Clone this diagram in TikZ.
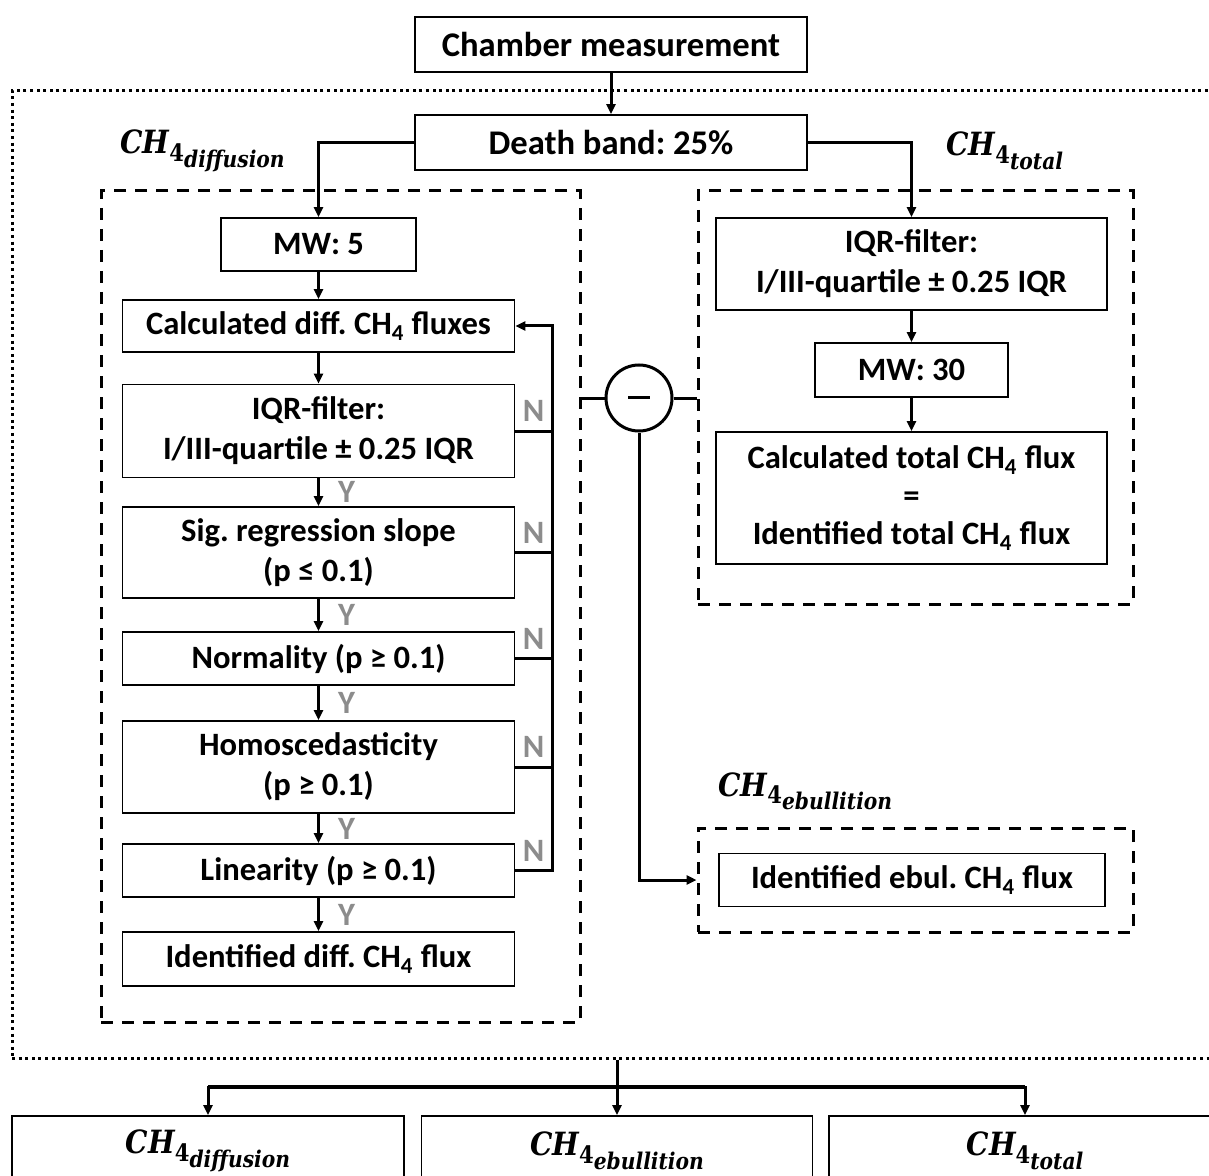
\documentclass[tikz,border=0pt]{standalone}
\usepackage{fontspec}
\setmainfont{Carlito}
\newfontfamily\labfont[FakeStretch=0.88]{DejaVu Serif}
\usetikzlibrary{arrows.meta}
\newcommand{\chfour}[1]{{\labfont\bfseries\itshape\fontsize{16}{19}\selectfont CH\raisebox{-0.45ex}{\upshape\fontsize{12}{12}\selectfont 4\raisebox{-0.5ex}{\itshape\fontsize{11.5}{11.5}\selectfont #1}}}}
\frenchspacing

\begin{document}
\begin{tikzpicture}[x=0.5pt,y=-0.5pt,>={Triangle[length=5pt,width=4.5pt]},
  box/.style={draw,line width=0.9pt,fill=white,inner sep=0pt,align=center,font=\bfseries\fontsize{16.3}{20}\selectfont},
  topbox/.style={box,font=\bfseries\fontsize{17.3}{20}\selectfont},
  bw/.style={minimum width=#1*0.5pt},
  bh/.style={minimum height=#1*0.5pt},
  grp/.style={draw,line width=1.5pt,dash pattern=on 6pt off 4.5pt,inner sep=0pt},
  frm/.style={draw,line width=1.5pt,dash pattern=on 1.5pt off 1.8pt,inner sep=0pt},
  conn/.style={line width=1.5pt},
  yn/.style={text=black!45,font=\bfseries\fontsize{16.3}{20}\selectfont,inner sep=0pt},
  chlab/.style={inner sep=0pt}]
\path[use as bounding box,clip] (0,0) rectangle (1209,1176);
\node[frm,bw=1210,bh=967] (outer) at (617,574.5) {};
\node[grp,bw=479,bh=831] (diffgrp) at (340.5,606.5) {};
\node[grp,bw=435,bh=413] (totgrp) at (915.5,397.5) {};
\node[grp,bw=435,bh=104] (ebugrp) at (915.5,880) {};
\node[topbox,bw=392,bh=55] (chamber) at (611,44.5) {Chamber measurement};
\node[topbox,bw=392,bh=55] (death) at (611,142.5) {Death band: 25\%};
\node[chlab,anchor=base west] (ldiff) at (120,154) {\chfour{diffusion}};
\node[chlab,anchor=base west] (ltot) at (946,156) {\chfour{total}};
\node[chlab,anchor=base west] (lebu) at (718,796) {\chfour{ebullition}};
% diffusive path
\node[box,bw=195,bh=53] (mwfive) at (318.5,244.5) {MW: 5};
\node[box,bw=392,bh=52] (calcd) at (318.5,326) {Calculated diff. CH\textsubscript{4} fluxes};
\node[box,bw=392,bh=93] (iqrd) at (318.5,431) {IQR-filter:\\I/III-quartile ± 0.25 IQR};
\node[box,bw=392,bh=91] (slope) at (318.5,552.5) {Sig. regression slope\\(p ≤ 0.1)};
\node[box,bw=392,bh=53] (normal) at (318.5,658.5) {Normality (p ≥ 0.1)};
\node[box,bw=392,bh=92] (homo) at (318.5,767) {Homoscedasticity\\(p ≥ 0.1)};
\node[box,bw=392,bh=53] (linear) at (318.5,870.5) {Linearity (p ≥ 0.1)};
\node[box,bw=392,bh=54] (iddiff) at (318.5,959) {Identified diff. CH\textsubscript{4} flux};
% total path
\node[box,bw=391,bh=92] (iqrt) at (911.5,264) {IQR-filter:\\I/III-quartile ± 0.25 IQR};
\node[box,bw=193,bh=54] (mwthirty) at (911.5,370) {MW: 30};
\node[box,bw=391,bh=132,font=\bfseries\fontsize{16.3}{19}\selectfont] (calct) at (911.5,498) {Calculated total CH\textsubscript{4} flux\\=\\Identified total CH\textsubscript{4} flux};
\node[box,bw=386,bh=53] (idebu) at (912,880) {Identified ebul. CH\textsubscript{4} flux};
\node[circle,draw,line width=1.5pt,minimum size=66*0.5pt,inner sep=0pt] (minus) at (639,398) {\rule{11pt}{1.5pt}};
% results
\node[box,bw=392,bh=70] (bdiff) at (208,1151) {\chfour{diffusion}};
\node[box,bw=391,bh=70] (bebu) at (617,1151) {\chfour{ebullition}};
\node[box,bw=392,bh=70] (btot) at (1025,1151) {\chfour{total}};

\draw[conn,->] (chamber) -- (death);
\draw[conn,->] (death.west) -| (mwfive.north);
\draw[conn,->] (death.east) -| (iqrt.north);
\draw[conn,->] (mwfive) -- (calcd);
\draw[conn,->] (calcd) -- (iqrd);
\draw[conn,->] (iqrd) -- node[yn,right=9pt]{Y} (slope);
\draw[conn,->] (slope) -- node[yn,right=9pt]{Y} (normal);
\draw[conn,->] (normal) -- node[yn,right=9pt]{Y} (homo);
\draw[conn,->] (homo) -- node[yn,right=9pt]{Y} (linear);
\draw[conn,->] (linear) -- node[yn,right=9pt]{Y} (iddiff);
\coordinate (loopx) at (552,0);
\draw[conn,->] (linear.east) -- (linear.east -| loopx) |- (calcd.east);
\foreach \b in {iqrd,slope,normal,homo}
  \draw[conn] (\b.east) -- (\b.east -| loopx);
\foreach \b in {iqrd,slope,normal,homo,linear}
  \node[yn,anchor=south west] at ([shift={(3.5pt,4.5pt)}]\b.east) {N};
\draw[conn,->] (iqrt) -- (mwthirty);
\draw[conn,->] (mwthirty) -- (calct);
\draw[conn] (minus.west) -- (minus.west -| diffgrp.east);
\draw[conn] (minus.east) -- (minus.east -| totgrp.west);
\draw[conn,->] (minus.south) |- (ebugrp.west);
\coordinate (fork) at (617,1087);
\draw[conn,->] (outer.south) -- (bebu.north);
\draw[line width=2.4pt] (bdiff.north |- fork) -- (btot.north |- fork);
\draw[conn,->] (fork) -| (bdiff.north);
\draw[conn,->] (fork) -| (btot.north);
\end{tikzpicture}
\end{document}
